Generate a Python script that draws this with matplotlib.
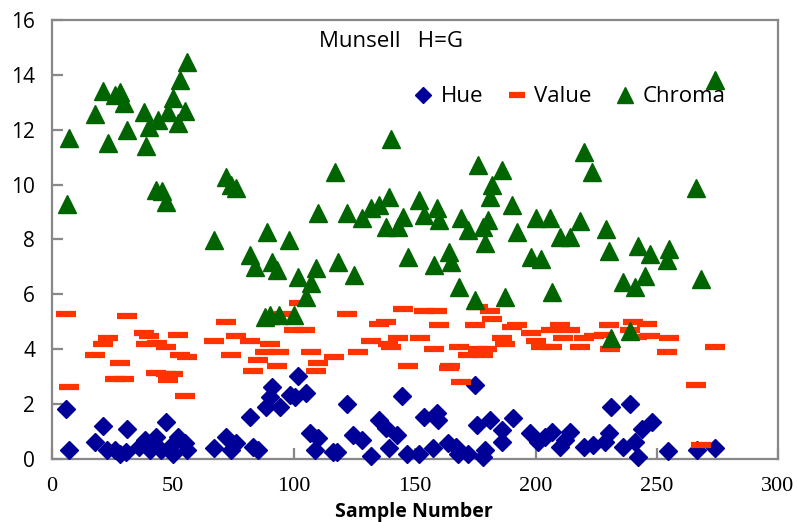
import matplotlib.pyplot as plt

# Hue (diamonds)
hue_x = [6, 7, 18, 21, 22.6, 26, 28, 30.8, 31, 36, 38.4, 40.5, 43, 45, 47, 48.8, 50, 52, 55, 56,
         67, 72, 74, 76, 82, 83, 85, 88.4, 90, 90.8, 94.2, 98.3, 100.4, 101.8, 105, 106.6, 108.7,
         110, 116, 117.6, 122, 124.5, 128, 132, 135, 138, 139.4, 142.4, 144.7, 146.6, 151.8,
         153.8, 157.6, 159, 159.6, 163.8, 167, 167.9, 172, 174.8, 175.5, 178, 179, 181, 185.8,
         185.8, 190.6, 197.5, 201, 203.7, 206.5, 210, 212, 214, 220, 223.7, 228.5, 230, 230.9,
         236, 239, 241, 242, 244, 248, 254.7, 266.4, 274]
hue_y = [1.81, 0.33, 0.61, 1.2, 0.33, 0.33, 0.18, 0.27, 1.1, 0.45, 0.69, 0.33, 0.81, 0.33, 1.36,
         0.45, 0.2, 0.81, 0.57, 0.33, 0.41, 0.81, 0.33, 0.57, 1.52, 0.45, 0.33, 1.9, 2.27, 2.63,
         1.9, 2.33, 2.27, 3.02, 2.39, 0.93, 0.33, 0.75, 0.27, 0.27, 2.0, 0.87, 0.71, 0.12, 1.42,
         1.12, 0.39, 0.87, 2.31, 0.2, 0.2, 1.54, 0.39, 1.66, 1.42, 0.57, 0.45, 0.2, 0.2, 2.7,
         1.24, 0.08, 0.33, 1.42, 1.06, 0.63, 1.48, 0.93, 0.63, 0.81, 1.0, 0.45, 0.69, 1.0, 0.45,
         0.51, 0.63, 0.93, 1.9, 0.45, 2.0, 0.63, 0.08, 1.1, 1.35, 0.3, 0.33, 0.41]

# Value (dashes)
val_x = [6, 7, 18, 21, 23, 26, 28, 30, 31, 38, 39, 40, 43, 43.5, 47, 47, 48, 50, 52, 53, 55, 56,
         67, 72, 74, 76, 82, 83, 85, 88, 90, 93, 94, 96, 100, 102, 104.5, 107, 109, 110, 116.5,
         122, 126.6, 132, 135, 138, 139, 140, 143, 145, 147, 152, 153.8, 158, 159, 160, 164,
         164.5, 168, 169, 172, 175, 176, 176, 178, 179.6, 181, 182, 186, 187, 190, 192, 198, 200,
         202, 206, 206.5, 210, 211, 214, 218, 220, 224, 228, 230, 230.6, 239, 240, 241.6, 245.7,
         247, 254, 255, 266, 268, 274]
val_y = [5.3, 2.61, 3.79, 4.19, 4.4, 2.9, 3.51, 2.9, 5.21, 4.61, 4.19, 4.5, 3.12, 4.21, 4.09,
         3.1, 2.88, 3.1, 4.52, 3.8, 2.31, 3.7, 4.31, 5.0, 3.79, 4.5, 4.31, 3.21, 3.61, 3.9, 4.19,
         3.4, 3.9, 5.3, 4.7, 5.7, 4.7, 3.91, 3.21, 3.51, 3.7, 5.3, 3.9, 4.31, 4.92, 5.0, 4.19,
         4.09, 4.4, 5.48, 3.4, 4.4, 5.39, 4.0, 5.39, 4.9, 3.3, 3.4, 4.09, 2.79, 3.8, 4.9, 4.0,
         5.55, 3.79, 4.0, 5.39, 5.09, 4.4, 4.19, 4.8, 4.9, 4.61, 4.31, 4.09, 4.7, 4.09, 4.9, 4.4,
         4.7, 4.09, 4.4, 4.48, 4.52, 4.9, 4.0, 4.7, 5.0, 4.44, 4.92, 4.48, 3.91, 4.4, 2.7, 0.51,
         4.09]

# Chroma (triangles)
chr_x = [6.1, 6.9, 18, 21, 23, 26, 28, 30, 31, 38, 39, 40, 43, 44, 45.4, 47, 48, 50, 52, 53, 55,
         56, 67, 72, 73.8, 75.9, 82, 84, 88, 88.8, 90, 90.8, 92.8, 94, 98, 100, 101.8, 105, 107,
         109, 110, 117, 118, 122, 125, 128, 132, 135, 138, 139.4, 140, 143, 145, 147, 151.8,
         153.8, 158, 159, 160, 164, 165, 168, 168.9, 172, 175, 176, 178, 179, 180, 181, 182, 186,
         187, 190, 192, 197.8, 200, 202, 205.8, 206.5, 210, 214, 218, 220, 223, 229, 230, 231,
         236, 239, 241, 242, 245, 247, 254, 255, 266, 268, 274]
chr_y = [9.3, 11.7, 12.57, 13.4, 11.5, 13.26, 13.38, 12.96, 11.98, 12.65, 11.4, 12.1, 9.8, 12.35,
         9.77, 9.37, 12.65, 13.15, 12.24, 13.8, 12.7, 14.47, 7.98, 10.28, 9.98, 9.87, 7.45, 7.0,
         5.18, 8.28, 5.24, 7.19, 6.89, 5.24, 7.98, 5.24, 6.64, 5.91, 6.4, 6.95, 8.97, 10.47,
         7.19, 8.95, 6.7, 8.77, 9.13, 9.25, 8.46, 9.56, 11.68, 8.46, 8.83, 7.37, 9.43, 8.89, 7.07,
         9.13, 8.7, 7.55, 7.19, 6.28, 8.77, 8.34, 5.79, 10.71, 8.46, 7.86, 8.7, 9.56, 9.98, 10.53,
         5.89, 9.25, 8.28, 7.37, 8.79, 7.29, 8.79, 6.1, 8.1, 8.1, 8.68, 11.2, 10.47, 8.38, 7.59,
         4.4, 6.46, 4.67, 6.28, 7.76, 6.67, 7.47, 7.25, 7.67, 9.86, 6.55, 13.8]

x_ticks = [0, 50, 100, 150, 200, 250, 300]
y_ticks = [0, 2, 4, 6, 8, 10, 12, 14, 16]

plt.rcParams['font.family'] = ['Open Sans', 'DejaVu Sans']

fig = plt.figure(figsize=(7.98, 5.22), dpi=100)
ax = fig.add_axes([0.065, 0.1207, 0.91, 0.841])

ax.plot(hue_x, hue_y, 'D', color='#000099', ms=9.5, mec='#000099', ls='none',
        label='Hue', clip_on=False, zorder=3)
ax.plot(val_x, val_y, '_', color='#ff3300', ms=14, mew=4.5, ls='none',
        label='Value', clip_on=False, zorder=4)
ax.plot(chr_x, chr_y, '^', color='#006400', ms=13.5, mec='#006400', ls='none',
        label='Chroma', clip_on=False, zorder=5)

ax.set_xlim(0, 300)
ax.set_ylim(0, 16)
ax.set_xticks(x_ticks)
ax.set_xticklabels([str(t) for t in x_ticks], family='Liberation Serif', fontsize=16)
ax.set_yticks(y_ticks)
ax.set_yticklabels([str(t) for t in y_ticks], fontsize=15)

for sp in ax.spines.values():
    sp.set_color('#888888')
    sp.set_linewidth(1.6)

ax.tick_params(axis='both', direction='in', length=8, width=1.6, color='#888888')
ax.tick_params(axis='y', pad=12)
ax.tick_params(axis='x', pad=13)

ax.set_xlabel('Sample Number', fontsize=14, fontweight='bold')
ax.xaxis.set_label_coords(0.499, -0.097)

ax.text(0.467, 0.95, 'Munsell   H=G', transform=ax.transAxes, fontsize=16,
        ha='center', va='center')

ax.legend(loc='center', bbox_to_anchor=(0.712, 0.825), ncol=3, frameon=False,
          fontsize=16, handletextpad=0.3, columnspacing=1.0, handlelength=1.0,
          markerscale=0.85)

fig.savefig('out.png', dpi=100)
